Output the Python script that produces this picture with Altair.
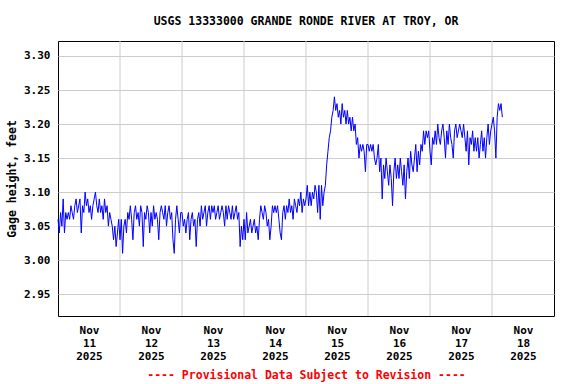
import altair as alt
import pandas as pd

FONT = "DejaVu Sans Mono"

# Gage height readings every 30 minutes starting Nov 11 2025 00:00,
# written as hundredths of a foot above 3.00 ft (e.g. 7 -> 3.07 ft)
nov11 = [6, 4, 7, 5, 9, 4, 7, 6, 7, 6, 8, 7, 6, 8, 9, 7, 8, 9, 4, 8, 7, 10, 8, 9,
         7, 8, 6, 8, 9, 10, 8, 7, 9, 7, 8, 6, 9, 7, 8, 5, 7, 6, 5, 3, 5, 2, 4, 6]
nov12 = [3, 6, 1, 5, 6, 4, 7, 6, 8, 6, 3, 7, 8, 6, 7, 5, 8, 7, 2, 7, 6, 8, 7, 4,
         7, 5, 8, 6, 7, 6, 3, 7, 8, 7, 6, 8, 5, 7, 8, 6, 7, 3, 1, 6, 8, 6, 4, 7]
nov13 = [7, 5, 6, 4, 6, 7, 3, 6, 7, 5, 6, 2, 6, 7, 5, 8, 6, 7, 8, 5, 7, 8, 6, 8,
         7, 8, 6, 7, 8, 6, 7, 8, 7, 5, 8, 6, 8, 7, 6, 8, 6, 7, 8, 6, 7, 2, 5, 3]
nov14 = [6, 3, 7, 4, 5, 6, 4, 5, 6, 4, 5, 3, 6, 8, 7, 6, 8, 7, 5, 6, 3, 5, 8, 7,
         8, 7, 8, 6, 4, 3, 7, 8, 6, 8, 7, 9, 7, 8, 6, 9, 8, 7, 9, 8, 10, 7, 9, 8]
nov15 = [9, 11, 8, 10, 8, 10, 9, 11, 10, 7, 11, 6, 11, 8, 10, 11, 14, 16, 18, 19, 21, 22, 24, 22,
         23, 21, 22, 20, 23, 21, 22, 20, 22, 20, 21, 19, 21, 19, 20, 17, 18, 15, 17, 16, 17, 16, 13, 17]
nov16 = [17, 16, 17, 16, 17, 15, 14, 15, 17, 13, 15, 9, 14, 12, 15, 13, 11, 14, 12, 8, 13, 15, 12, 14,
         12, 15, 13, 11, 14, 9, 13, 15, 12, 16, 14, 13, 15, 17, 13, 16, 14, 17, 16, 19, 17, 19, 18, 19]
nov17 = [16, 14, 18, 17, 19, 17, 20, 18, 17, 19, 20, 18, 15, 19, 17, 20, 18, 17, 15, 19, 20, 18, 19, 20,
         19, 18, 20, 18, 16, 19, 14, 18, 17, 19, 16, 18, 16, 18, 15, 17, 19, 16, 18, 15, 18, 20, 17, 19]
nov18 = [20, 21, 19, 15, 21, 23, 22, 23, 21]

hundredths = nov11 + nov12 + nov13 + nov14 + nov15 + nov16 + nov17 + nov18
times = pd.date_range("2025-11-11T00:00:00Z", periods=len(hundredths), freq="30min")
df = pd.DataFrame({
    "time": times.strftime("%Y-%m-%dT%H:%M:%SZ"),
    "gage": [round(3.0 + h / 100.0, 2) for h in hundredths],
})

midnights = [f"2025-11-{d}T00:00:00Z" for d in range(12, 19)]
label_days = list(range(11, 19))
y_ticks = [2.95, 3.00, 3.05, 3.10, 3.15, 3.20, 3.25, 3.30]

x_scale = alt.Scale(
    type="utc",
    domain=[alt.DateTime(year=2025, month=11, date=11, utc=True),
            alt.DateTime(year=2025, month=11, date=19, utc=True)],
)

rules = alt.Chart(pd.DataFrame({"midnight": midnights})).mark_rule(
    color="#cccccc", strokeWidth=1
).encode(x=alt.X("midnight:T", scale=x_scale))

line = alt.Chart(df).mark_line(color="#0000FF", strokeWidth=1).encode(
    x=alt.X(
        "time:T",
        scale=x_scale,
        axis=alt.Axis(
            values=[alt.DateTime(year=2025, month=11, date=d, hours=12, utc=True) for d in label_days],
            labelExpr="[utcFormat(datum.value, '%b'), utcFormat(datum.value, '%d'), utcFormat(datum.value, '%Y')]",
            grid=False, ticks=False, domain=False, labelFlush=False, labelOverlap=False,
            labelPadding=8, labelLineHeight=13.3,
            labelFont=FONT, labelFontSize=11, labelFontWeight="bold", labelColor="black",
            title="---- Provisional Data Subject to Revision ----",
            titleFont=FONT, titleFontSize=11.5, titleFontWeight="bold", titleColor="#FF0000",
            titlePadding=8,
        ),
    ),
    y=alt.Y(
        "gage:Q",
        scale=alt.Scale(domain=[2.918, 3.322], nice=False, zero=False),
        axis=alt.Axis(
            values=y_ticks, format=".2f", grid=True, gridColor="#cccccc",
            ticks=False, domain=False, labelPadding=8,
            labelFont=FONT, labelFontSize=11, labelFontWeight="bold", labelColor="black",
            title="Gage height, feet",
            titleFont=FONT, titleFontSize=11.5, titleFontWeight="bold", titleColor="black",
            titlePadding=6,
        ),
    ),
)

chart = alt.layer(rules, line).properties(
    width=496,
    height=275,
    autosize=alt.AutoSizeParams(type="none"),
    padding={"left": 58, "top": 41, "right": 22, "bottom": 68},
    title=alt.TitleParams(
        "USGS 13333000 GRANDE RONDE RIVER AT TROY, OR",
        font=FONT, fontSize=11.5, fontWeight="bold", color="black",
        anchor="middle", offset=13,
    ),
    background="white",
).configure_view(stroke="black", strokeWidth=1)

chart.save("out.html", embed_options={"renderer": "svg", "actions": False})
